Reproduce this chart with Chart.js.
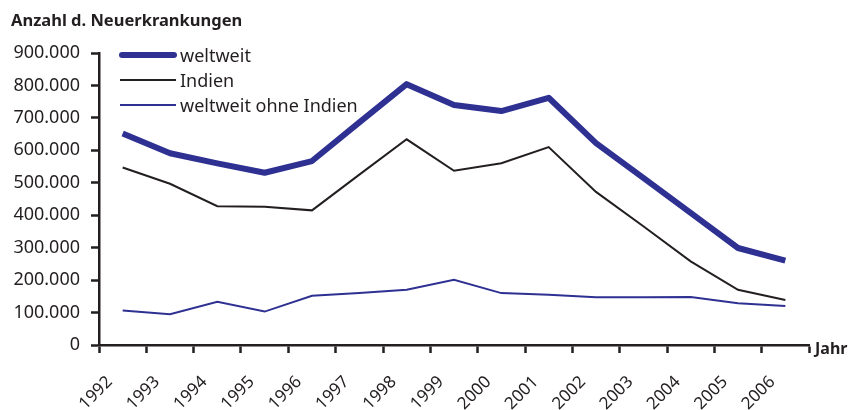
<!DOCTYPE html>
<html>
<head>
<meta charset="utf-8">
<script src="https://cdn.jsdelivr.net/npm/chart.js@4"></script>
<style>
  body { margin: 0; background: #fff; }
  canvas { display: block; }
</style>
</head>
<body>
<canvas id="chart" width="851" height="410"></canvas>
<script>
const years = ['1992', '1993', '1994', '1995', '1996', '1997', '1998', '1999', '2000', '2001', '2002', '2003', '2004', '2005', '2006'];
const weltweit = [652000, 591000, 560000, 531000, 567000, 686000, 804000, 740000, 721000, 762000, 622000, 515000, 407000, 299000, 260000];
const indien = [547000, 497000, 428000, 426000, 415000, 525000, 634000, 537000, 560000, 610000, 472000, 366000, 258000, 170000, 139000];
const ohneIndien = [106000, 95000, 133000, 103000, 152000, 160000, 170000, 201000, 160000, 155000, 147000, 147000, 148000, 129000, 120000];
const seriesNames = ['weltweit', 'Indien', 'weltweit ohne Indien'];

const ink = '#231f20';
const blue = '#2e3192';
const fontFamily = "'Noto Sans', 'Open Sans', sans-serif";

// Titel, "Jahr" und Legende direkt auf die Leinwand
const extras = {
    id: 'extras',
    afterDraw(chart) {
        const ctx = chart.ctx;
        const area = chart.chartArea;
        ctx.save();
        ctx.fillStyle = ink;
        ctx.textBaseline = 'alphabetic';
        ctx.font = 'bold 16.5px ' + fontFamily;
        ctx.textAlign = 'left';
        ctx.fillText('Anzahl d. Neuerkrankungen', 11, 26);
        ctx.font = 'bold 16px ' + fontFamily;
        ctx.fillText('Jahr', area.right + 6, area.bottom + 9);

        const rows = [55, 80, 105];
        chart.data.datasets.forEach((ds, i) => {
            const y = rows[i];
            ctx.beginPath();
            ctx.strokeStyle = ds.borderColor;
            ctx.lineWidth = ds.borderWidth;
            ctx.lineCap = i === 0 ? 'round' : 'butt';
            ctx.moveTo(i === 0 ? 122 : 120, y);
            ctx.lineTo(i === 0 ? 174 : 176, y);
            ctx.stroke();
            ctx.font = '18px ' + fontFamily;
            ctx.fillStyle = ink;
            ctx.textBaseline = 'middle';
            ctx.fillText(ds.label, 180, y + 2);
        });
        ctx.restore();
    }
};

new Chart(document.getElementById('chart'), {
    type: 'line',
    data: {
        labels: years,
        datasets: [
            {
                label: seriesNames[0],
                data: weltweit,
                borderColor: blue,
                borderWidth: 6,
                borderJoinStyle: 'round',
                pointRadius: 0,
                tension: 0,
            },
            {
                label: seriesNames[1],
                data: indien,
                borderColor: ink,
                borderWidth: 2,
                pointRadius: 0,
                tension: 0,
            },
            {
                label: seriesNames[2],
                data: ohneIndien,
                borderColor: blue,
                borderWidth: 2,
                pointRadius: 0,
                tension: 0,
            }
        ]
    },
    options: {
        responsive: false,
        animation: false,
        layout: {
            padding: { top: 53, right: 42, left: 0, bottom: 0 }
        },
        scales: {
            x: {
                offset: true,
                afterFit: (scale) => { scale.height = 65; },
                border: { display: true, color: ink, width: 2.5 },
                grid: {
                    offset: true,
                    drawOnChartArea: false,
                    drawTicks: true,
                    tickLength: 8,
                    tickColor: ink,
                    tickWidth: 2.5,
                },
                ticks: {
                    color: ink,
                    font: { family: fontFamily, size: 17 },
                    minRotation: 45,
                    maxRotation: 45,
                    autoSkip: false,
                    padding: 19,
                    labelOffset: -13,
                },
            },
            y: {
                min: 0,
                max: 900000,
                afterFit: (scale) => { scale.width = 99; },
                border: { display: true, color: ink, width: 2.5 },
                grid: {
                    drawOnChartArea: false,
                    drawTicks: true,
                    tickLength: 8,
                    tickColor: ink,
                    tickWidth: 2.5,
                },
                ticks: {
                    stepSize: 100000,
                    color: ink,
                    font: { family: fontFamily, size: 18 },
                    padding: 11,
                    callback: (v) => v.toLocaleString('de-DE'),
                },
            },
        },
        plugins: {
            legend: { display: false },
            tooltip: { enabled: false },
        }
    },
    plugins: [extras]
});
</script>
</body>
</html>
